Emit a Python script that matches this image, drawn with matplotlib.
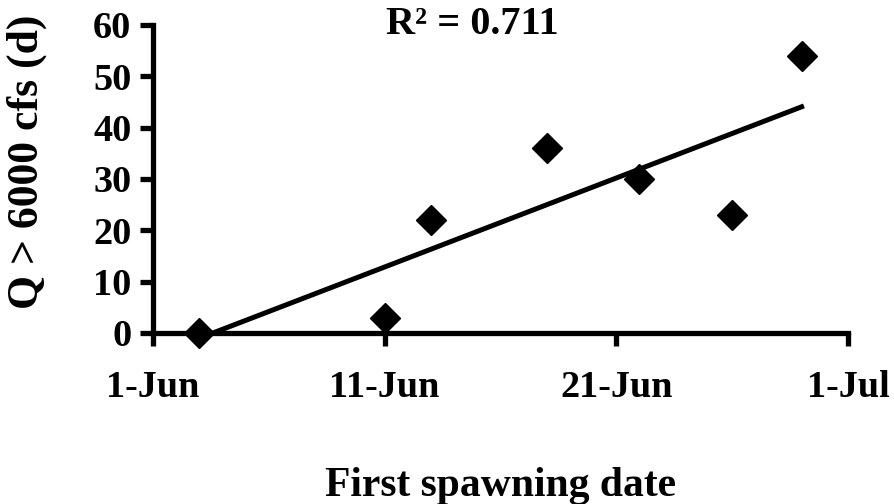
import numpy as np
import matplotlib.pyplot as plt

# days after 1-Jun for first spawning, and days with Q > 6000 cfs
spawn_day = [2, 10, 12, 17, 21, 25, 28]
q_days = [0, 3, 22, 36, 30, 23, 54]
tick_days = [0, 10, 20, 30]
tick_labels = ['1-Jun', '11-Jun', '21-Jun', '1-Jul']
r2_text = 'R² = 0.711'

plt.rcParams['font.family'] = ['Liberation Serif', 'DejaVu Serif']
plt.rcParams['font.weight'] = 'bold'

fig = plt.figure(figsize=(8.94, 5.04), dpi=100)
ax = fig.add_axes([0.1711, 0.3393, 0.7774, 0.6111])

ax.plot(spawn_day, q_days, linestyle='none', marker='D', markersize=15.5,
        color='black', clip_on=False, zorder=3)

# linear trend line over the data range
slope, icpt = np.polyfit(spawn_day, q_days, 1)
xs = np.array([min(spawn_day), max(spawn_day)])
ax.plot(xs, slope * xs + icpt, color='black', linewidth=3.6, zorder=2)

ax.set_xlim(0, 30)
ax.set_ylim(0, 60)
ax.set_xticks(tick_days)
ax.set_xticklabels(tick_labels)
ax.set_yticks(range(0, 61, 10))

for s in ['top', 'right']:
    ax.spines[s].set_visible(False)
for s in ['left', 'bottom']:
    ax.spines[s].set_linewidth(3.8)
    ax.spines[s].set_zorder(4)

ax.tick_params(axis='both', direction='out', width=3.8, labelsize=27.5)
ax.tick_params(axis='y', length=9.5, pad=6)
ax.tick_params(axis='x', length=9, pad=18)

ax.set_xlabel('First spawning date', fontsize=30, fontweight='bold', labelpad=44)
ax.set_ylabel('Q > 6000 cfs (d)', fontsize=31.5, fontweight='bold')
ax.yaxis.set_label_coords(-0.152, 0.555)

ax.text(0.46, 1.0, r2_text, transform=ax.transAxes, fontsize=29,
        fontweight='bold', ha='center', va='center')

fig.savefig('out.png', dpi=100)
